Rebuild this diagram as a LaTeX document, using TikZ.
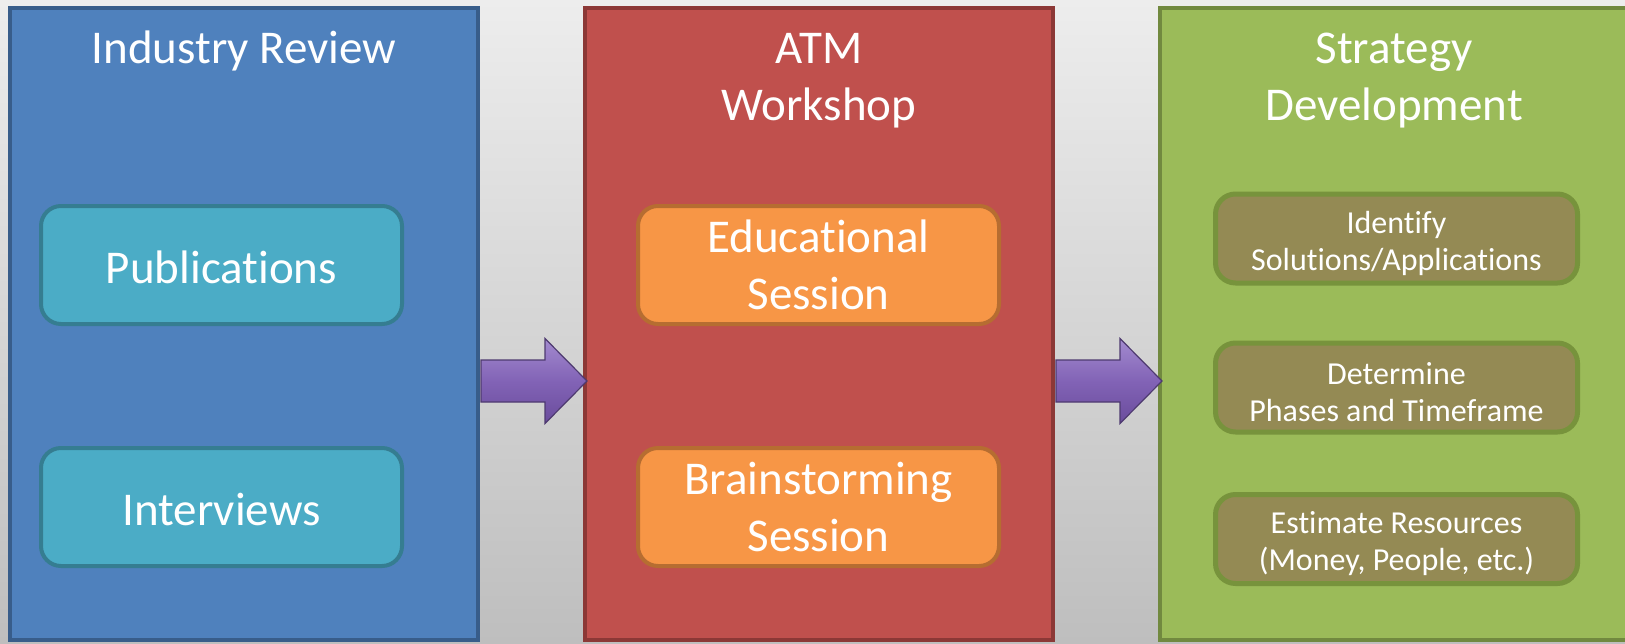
\documentclass[tikz,border=0pt]{standalone}
\usepackage{fontspec}
\setmainfont{Carlito}[RawFeature=-liga, RawFeature=-clig, RawFeature=-calt, RawFeature=-dlig]
\usetikzlibrary{calc}
\definecolor{bgtop}{HTML}{EDEDED}
\definecolor{bgbot}{HTML}{BEBEBE}
\definecolor{bluefill}{HTML}{4F81BD}
\definecolor{bluebd}{HTML}{385D8A}
\definecolor{tealfill}{HTML}{4BACC6}
\definecolor{tealbd}{HTML}{357D91}
\definecolor{redfill}{HTML}{C0504D}
\definecolor{redbd}{HTML}{8C3836}
\definecolor{orangefill}{HTML}{F79646}
\definecolor{orangebd}{HTML}{B66D31}
\definecolor{greenfill}{HTML}{9BBB59}
\definecolor{greenbd}{HTML}{71893F}
\definecolor{olivefill}{HTML}{948A54}
\definecolor{olivebd}{HTML}{77933C}
\definecolor{arrowtop}{HTML}{A38BCF}
\definecolor{arrowmid}{HTML}{8263B6}
\definecolor{arrowbot}{HTML}{6A4C9C}
\definecolor{arrowedge}{HTML}{4E3A70}
\newcommand{\firstlineup}{\rule{0pt}{32pt}}
\tikzset{
  stage/.style={rectangle, line width=4pt, minimum width=468pt, minimum height=632pt, inner sep=0pt},
  stagetitle/.style={text=white, align=center, inner sep=0pt, font=\fontsize{47}{57}\selectfont},
  item/.style={rectangle, rounded corners=20pt, line width=4pt, minimum width=361pt, minimum height=118pt,
    inner sep=0pt, text=white, align=center, font=\fontsize{47}{57}\selectfont},
  subitem/.style={rectangle, rounded corners=20pt, line width=5pt, draw=olivebd, fill=olivefill,
    minimum width=362pt, minimum height=89pt, inner sep=0pt, text=white, align=center,
    font=\fontsize{32}{37}\selectfont},
  blockarrow/.style={top color=arrowtop, bottom color=arrowbot, middle color=arrowmid,
    draw=arrowedge, line width=1.2pt, line join=miter}
}
\begin{document}
\begin{tikzpicture}[x=1pt,y=-1pt]
\useasboundingbox (0,0) rectangle (1625,643);
\clip (0,0) rectangle (1625,643);
\shade[top color=bgtop, bottom color=bgbot] (0,0) rectangle (1625,643);

% stages
\node[stage, draw=bluebd, fill=bluefill] (blue) at (244,324) {};
\node[stage, draw=redbd, fill=redfill] (red) at (819,324) {};
\node[stage, draw=greenbd, fill=greenfill] (green) at (1394,324) {};

% titles
\node[stagetitle, anchor=base] (t1) at (244,63.5) {Industry Review};
\node[stagetitle, anchor=north] (t2) at (819,33) {ATM\\Workshop};
\node[stagetitle, anchor=north] (t3) at (1394,33) {Strategy\\Development};

% items
\node[item, draw=tealbd, fill=tealfill, text height=41pt, text depth=5pt] (pub) at (221.5,265) {Publications};
\node[item, draw=tealbd, fill=tealfill, text height=41pt, text depth=5pt] (int) at (221.5,507) {Interviews};
\node[item, draw=orangebd, fill=orangefill] (edu) at (818.5,265) {Educational\\Session};
\node[item, draw=orangebd, fill=orangefill] (brain) at (818.5,507) {Brainstorming\\Session};
\node[subitem] (ident) at (1396.5,238.5) {\firstlineup Identify\\Solutions/Applications};
\node[subitem] (phase) at (1396.5,387.5) {\firstlineup Determine\\Phases and Timeframe};
\node[subitem] (est) at (1396.5,539) {\firstlineup Estimate Resources\\(Money, People, etc.)};

% block arrows between stages
\coordinate (a1) at ($(blue.east)+(1,57)$);
\coordinate (a2) at ($(red.east)+(1,57)$);
\foreach \s in {a1,a2}{
  \path[blockarrow] (\s) ++(0,-21) -- ++(64,0) -- ++(0,-21.5) -- ++(42,42.5)
    -- ++(-42,42.5) -- ++(0,-21.5) -- ++(-64,0) -- cycle;
}
\end{tikzpicture}
\end{document}
